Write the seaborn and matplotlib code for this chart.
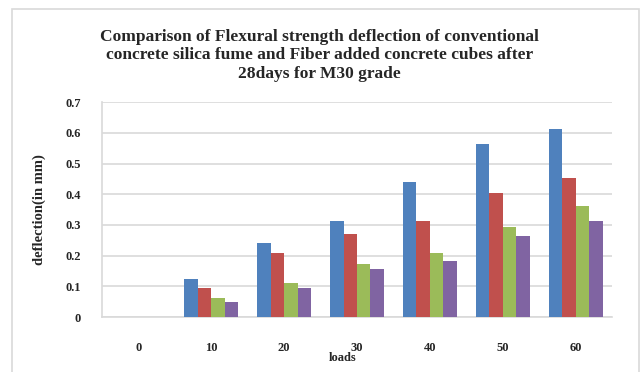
import pandas as pd
import seaborn as sns
import matplotlib.pyplot as plt
from matplotlib.patches import Rectangle

# data
loads = ["0", "10", "20", "30", "40", "50", "60"]
series = ["Conventional", "Silica fume", "Fiber 1", "Fiber 2"]
conventional = [0, 0.123, 0.240, 0.312, 0.441, 0.564, 0.612]
silica_fume = [0, 0.093, 0.209, 0.270, 0.312, 0.404, 0.454]
fiber_1 = [0, 0.062, 0.111, 0.173, 0.209, 0.295, 0.361]
fiber_2 = [0, 0.050, 0.093, 0.155, 0.184, 0.265, 0.312]
colors = ["#4F81BD", "#C0504D", "#9BBB59", "#8064A2"]
yticks = [0, 0.1, 0.2, 0.3, 0.4, 0.5, 0.6, 0.7]
ytick_labels = ["0", "0.1", "0.2", "0.3", "0.4", "0.5", "0.6", "0.7"]

title = ("Comparison of Flexural strength deflection of conventional\n"
         "concrete silica fume and Fiber added concrete cubes after\n"
         "28days for M30 grade")

sns.set_style("white")
plt.rcParams['font.family'] = ['Liberation Serif', 'DejaVu Serif']

# long format for seaborn
rows = []
for name, vals in zip(series, [conventional, silica_fume, fiber_1, fiber_2]):
    for ld, v in zip(loads, vals):
        rows.append({"loads": ld, "deflection": v, "mix": name})
df = pd.DataFrame(rows)

fig = plt.figure(figsize=(6.44, 3.72), dpi=100)
ax = fig.add_axes([102 / 644, 55 / 372, 510 / 644, 214.7 / 372])

sns.barplot(data=df, x="loads", y="deflection", hue="mix", order=loads,
            hue_order=series, palette=colors, saturation=1, width=0.74,
            legend=False, ax=ax, zorder=3, linewidth=0)

grid_c = "#d9d9d9"
ax.set_ylim(0, 0.7)
ax.set_xlim(-0.5, 6.5)
ax.set_yticks(yticks)
ax.set_yticklabels(ytick_labels)
ax.grid(axis="y", color=grid_c, linewidth=1.2, zorder=0)
ax.set_axisbelow(True)
for side in ["top", "right"]:
    ax.spines[side].set_visible(False)
ax.spines["left"].set_color(grid_c)
ax.spines["bottom"].set_color(grid_c)
ax.spines["left"].set_linewidth(1.2)
ax.spines["bottom"].set_linewidth(1.2)
ax.tick_params(axis="y", length=4, color=grid_c, width=1.2, pad=11, labelsize=9)
ax.tick_params(axis="x", length=0, pad=18, labelsize=9)
for lbl in ax.get_xticklabels() + ax.get_yticklabels():
    lbl.set_fontweight("bold")

ax.set_ylabel("deflection(in mm)", fontsize=10.5, fontweight="bold")
ax.yaxis.set_label_coords(-0.11, 0.5)
ax.set_xlabel("loads", fontsize=9, fontweight="bold")
ax.xaxis.set_label_coords(0.4725, -0.163)

fig.text(0.496, 1 - 29 / 372, title, ha="center", va="top", fontsize=12.5,
         fontweight="bold", linespacing=1.2)

# light frame around the chart area
fig.patches.append(Rectangle((12 / 644, -0.02), 627 / 644, 1.02 - 9 / 372,
                             transform=fig.transFigure, fill=False,
                             edgecolor=grid_c, linewidth=1.2))

fig.savefig("out.png", dpi=100)
